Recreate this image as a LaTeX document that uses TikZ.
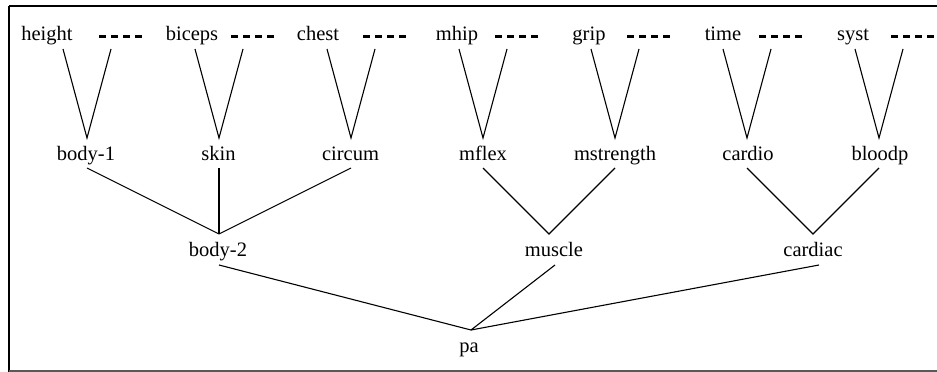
\documentclass[tikz,border=0pt]{standalone}
\usepackage{fontspec}
\setmainfont{Liberation Serif}
\begin{document}
\begin{tikzpicture}[x=1pt,y=-1pt,
  lbl/.style={anchor=base,inner sep=0pt,font=\fontsize{20.5}{24}\selectfont},
  edge/.style={line width=1.1pt},
  dashmark/.style={line width=3pt,dash pattern=on 7pt off 5pt}]
\useasboundingbox (0,0) rectangle (937,372);
% frame
\draw[line width=2.6pt] (9,6) -- (940,6);
\draw[line width=2.6pt] (9,6) -- (9,374);
\draw[line width=2pt,black!65] (9,371) -- (940,371);
% top labels
\node[lbl] (height) at (47,40) {height};
\node[lbl] (biceps) at (192,40) {biceps};
\node[lbl] (chest) at (318,40) {chest};
\node[lbl] (mhip) at (457,40) {mhip};
\node[lbl] (grip) at (589,40) {grip};
\node[lbl] (time) at (723,40) {time};
\node[lbl] (syst) at (853,40) {syst};
% dash marks
\foreach \x in {99,231,363,495,627,759,891}
  \draw[dashmark] (\x,36) -- ++(43,0);
% middle labels
\node[lbl] (body1) at (86,160) {body-1};
\node[lbl] (skin) at (218.5,160) {skin};
\node[lbl] (circum) at (350.5,160) {circum};
\node[lbl] (mflex) at (483,160) {mflex};
\node[lbl] (mstrength) at (615,160) {mstrength};
\node[lbl] (cardio) at (748,160) {cardio};
\node[lbl] (bloodp) at (880,160) {bloodp};
% second level
\node[lbl] (body2) at (218,256) {body-2};
\node[lbl] (muscle) at (554,256) {muscle};
\node[lbl] (cardiac) at (813,256) {cardiac};
\node[lbl] (pa) at (469,352) {pa};
% V connectors
\foreach \c/\n in {87/a,219/b,351/c,483/d,615/e,747/f,879/g}{
  \coordinate (vl\n) at (\c-24,49);
  \coordinate (vr\n) at (\c+24,49);
  \coordinate (va\n) at (\c,138);
  \coordinate (vs\n) at (\c,168);
  \draw[edge] (vl\n) -- (va\n) -- (vr\n);
}
% second-level connectors
\coordinate (b2top) at (219,234);
\coordinate (mutop) at (549,234);
\coordinate (catop) at (813,234);
\draw[edge] (vsa) -- (b2top);
\draw[edge] (vsb) -- (b2top);
\draw[edge] (vsc) -- (b2top);
\draw[edge] (vsd) -- (mutop) -- (vse);
\draw[edge] (vsf) -- (catop) -- (vsg);
% bottom connectors
\coordinate (patop) at (471,330);
\coordinate (b2bot) at (219,265);
\coordinate (mubot) at (555,265);
\coordinate (cabot) at (819,265);
\draw[edge] (b2bot) -- (patop);
\draw[edge] (mubot) -- (patop);
\draw[edge] (cabot) -- (patop);
\end{tikzpicture}
\end{document}
